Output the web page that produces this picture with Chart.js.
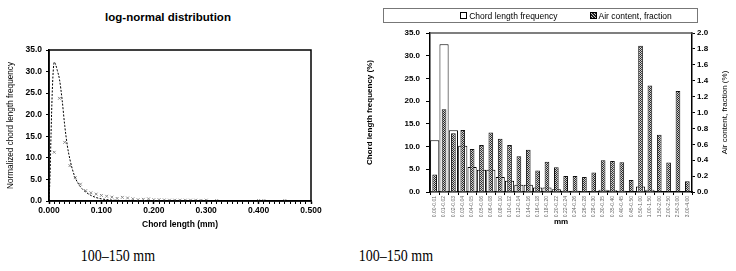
<!DOCTYPE html>
<html>
<head>
<meta charset="utf-8">
<script src="https://cdn.jsdelivr.net/npm/chart.js@4.4.0/dist/chart.umd.min.js"></script>
<style>
  html, body { margin: 0; padding: 0; background: #fff; overflow: hidden; width: 736px; height: 271px; }
  body { position: relative; font-family: "Liberation Sans", Arial, sans-serif; color: #000; }
  #leftWrap { position: absolute; left: 0; top: 0; width: 330px; height: 240px; }
  #rightWrap { position: absolute; left: 350px; top: 0; width: 432px; height: 240px; }
  #lnTitle { position: absolute; left: 68px; top: 11px; width: 200px; text-align: center; font-weight: bold; font-size: 11.5px; }
  .cap { position: absolute; top: 248px; width: 160px; text-align: center; font-family: "Liberation Serif", "Times New Roman", serif;
         font-size: 14px; transform: scale(1, 1.15); }
  #legend { position: absolute; left: 383px; top: 8px; width: 315px; height: 15px; box-sizing: border-box; border: 1px solid #777;
            display: flex; align-items: center; justify-content: center; padding-left: 51px; font-size: 8.5px; }
  #legend span.item { display: inline-flex; align-items: center; }
  #legend span.item + span.item { margin-left: 32px; }
  .sw { display: inline-block; width: 5px; height: 5px; border: 1px solid #000; margin-right: 2px; background: #fff; }
  .sw.hatch { background: repeating-linear-gradient(45deg, #222 0 1px, #ccc 1px 2px); }
</style>
</head>
<body>
<div id="lnTitle">log-normal distribution</div>
<div id="leftWrap"><canvas id="graficoLogNormal"></canvas></div>
<div id="rightWrap"><canvas id="graficoCordas"></canvas></div>
<div id="legend">
  <span class="item"><span class="sw"></span>Chord length frequency</span>
  <span class="item"><span class="sw hatch"></span>Air content, fraction</span>
</div>
<div class="cap" style="left:38px">100–150 mm</div>
<div class="cap" style="left:316px">100–150 mm</div>

<script>
// --- data: log-normal chart (left) ---
const curveX = [0, 0.002, 0.004, 0.006, 0.008, 0.010, 0.013, 0.016, 0.020, 0.025, 0.030, 0.035, 0.040, 0.045, 0.050, 0.060, 0.070, 0.080, 0.090, 0.100, 0.120, 0.150, 0.200, 0.300, 0.400, 0.500];
const curveY = [0, 6, 16, 24.5, 30, 32.2, 31.5, 30.2, 28.2, 23.5, 17.5, 12.8, 9.6, 7.2, 5.4, 3.3, 2.1, 1.3, 0.8, 0.5, 0.2, 0.05, 0, 0, 0, 0];
const measX = [0.010, 0.020, 0.030, 0.040, 0.050, 0.060, 0.070, 0.080, 0.090, 0.100, 0.110, 0.120, 0.130, 0.140, 0.150, 0.160, 0.170, 0.180, 0.190, 0.200, 0.210, 0.220, 0.230, 0.240, 0.250, 0.260, 0.270, 0.280, 0.290, 0.300, 0.320, 0.400, 0.410, 0.450];
const measY = [11.3, 23.8, 13.6, 8.2, 5.4, 3.9, 2.4, 1.9, 1.6, 1.3, 1.1, 0.9, 0.6, 0.85, 0.7, 0.5, 0.3, 0.4, 0.5, 0.3, 0.3, 0.25, 0.2, 0.2, 0.2, 0.2, 0.2, 0.2, 0.15, 0.2, 0.1, 0.1, 0.1, 0.1];

// --- data: chord length histogram (right) ---
const classes = ['0.00-0.01', '0.01-0.02', '0.02-0.03', '0.03-0.04', '0.04-0.05', '0.05-0.06', '0.06-0.08', '0.08-0.10',
  '0.10-0.12', '0.12-0.14', '0.14-0.16', '0.16-0.18', '0.18-0.20', '0.20-0.22', '0.22-0.24', '0.24-0.26', '0.26-0.28',
  '0.28-0.30', '0.30-0.35', '0.35-0.40', '0.40-0.45', '0.45-0.50', '0.50-1.00', '1.00-1.50', '1.50-2.00', '2.00-2.50',
  '2.50-3.00', '3.00-4.00'];
const chordFreq = [11.4, 32.5, 13.6, 10.2, 5.5, 4.9, 4.9, 3.3, 2.5, 1.6, 1.6, 1.0, 1.0, 0.6, 0.3, 0.3, 0.2, 0.2, 0.5, 0.4, 0.3, 0.1, 1.2, 0.5, 0.1, 0.1, 0.1, 0.0];
const airContent = [0.22, 1.04, 0.74, 0.78, 0.54, 0.59, 0.75, 0.67, 0.59, 0.45, 0.53, 0.27, 0.38, 0.31, 0.20, 0.20, 0.19, 0.245, 0.40, 0.39, 0.375, 0.15, 1.84, 1.34, 0.72, 0.37, 1.27, 0.135];

const leftTicks = { min: 0, max: 35, step: 5 };
const rightTicks = { min: 0, max: 2, step: 0.2 };

const FONT = '"Liberation Sans", Arial, sans-serif';
Chart.defaults.font.family = FONT;
Chart.defaults.color = '#000';
Chart.defaults.animation = false;

// hatched fill for the air content bars
function hatchPattern() {
  const c = document.createElement('canvas');
  c.width = 2; c.height = 2;
  const g = c.getContext('2d');
  g.fillStyle = '#d0d0d0'; g.fillRect(0, 0, 2, 2);
  g.fillStyle = '#2a2a2a'; g.fillRect(0, 0, 1, 1); g.fillRect(1, 1, 1, 1);
  return g.createPattern(c, 'repeat');
}

// 1. log-normal distribution
new Chart(document.getElementById('graficoLogNormal'), {
  type: 'scatter',
  data: {
    datasets: [{
      type: 'line',
      label: 'log-normal',
      data: curveX.map((x, i) => ({ x: x, y: curveY[i] })),
      borderColor: '#000',
      borderWidth: 1,
      borderDash: [2, 1.5],
      pointRadius: 0,
      cubicInterpolationMode: 'monotone',
      fill: false
    }, {
      label: 'measured',
      data: measX.map((x, i) => ({ x: x, y: measY[i] })),
      pointStyle: 'crossRot',
      pointRadius: 2,
      borderWidth: 1,
      borderColor: '#8a8a8a',
      backgroundColor: '#8a8a8a'
    }]
  },
  options: {
    responsive: true,
    maintainAspectRatio: false,
    layout: { padding: { left: 0, top: 50, right: 19, bottom: 0 } },
    plugins: { legend: { display: false }, tooltip: { enabled: false } },
    scales: {
      x: {
        type: 'linear', min: 0, max: 0.5,
        afterFit(s) { s.height = 39; },
        grid: { drawOnChartArea: false, tickLength: 3, color: '#000',
          tickWidth: c => (Math.round(c.tick.value * 100) % 10 === 0 ? 1.5 : 1) },
        border: { color: '#000', width: 1.5 },
        ticks: {
          stepSize: 0.01, autoSkip: false, maxRotation: 0, padding: 2,
          font: { size: 8.5, weight: 'bold' },
          callback: v => (Math.round(v * 100) % 10 === 0 ? v.toFixed(3) : '')
        },
        title: { display: true, text: 'Chord length (mm)', font: { size: 8.5, weight: 'bold' }, padding: { top: 0, bottom: 10 } }
      },
      y: {
        min: leftTicks.min, max: leftTicks.max,
        afterFit(s) { s.width = 49; },
        grid: { drawOnChartArea: false, tickLength: 3, color: '#000' },
        border: { color: '#000', width: 1.5 },
        ticks: { stepSize: leftTicks.step, padding: 4, font: { size: 8.5, weight: 'bold' }, callback: v => v.toFixed(1) },
        title: { display: true, text: 'Normalized chord length frequency', font: { size: 8.2 }, padding: { top: 6, bottom: 0 } }
      }
    }
  },
  plugins: [{
    id: 'frame',
    afterDraw(chart) {
      const { ctx, chartArea: a } = chart;
      ctx.save();
      ctx.strokeStyle = '#000';
      ctx.lineWidth = 1.5;
      ctx.strokeRect(a.left, a.top, a.right - a.left, a.bottom - a.top);
      ctx.restore();
    }
  }]
});

// 2. chord length frequency vs air content
new Chart(document.getElementById('graficoCordas'), {
  type: 'bar',
  data: {
    labels: classes,
    datasets: [{
      label: 'Chord length frequency',
      data: chordFreq,
      yAxisID: 'y',
      backgroundColor: '#fff',
      borderColor: '#000',
      borderWidth: 1,
      grouped: false,
      barPercentage: 0.98,
      categoryPercentage: 1,
      order: 1
    }, {
      label: 'Air content, fraction',
      data: airContent,
      yAxisID: 'y2',
      backgroundColor: hatchPattern(),
      borderColor: '#111',
      borderWidth: 1,
      grouped: false,
      barPercentage: 0.5,
      categoryPercentage: 1,
      order: 0
    }]
  },
  options: {
    responsive: true,
    maintainAspectRatio: false,
    layout: { padding: { left: 0, top: 33, right: 0, bottom: 0 } },
    plugins: { legend: { display: false }, tooltip: { enabled: false } },
    scales: {
      x: {
        afterFit(s) { s.height = 48; },
        grid: { drawOnChartArea: false, tickLength: 3, color: '#000', offset: true },
        border: { color: '#000', width: 1.5 },
        ticks: { autoSkip: false, minRotation: 90, maxRotation: 90, padding: 1, color: '#666', font: { size: 5 } },
        title: { display: true, text: 'mm', font: { size: 8, weight: 'bold' }, padding: { top: 0, bottom: 13 } }
      },
      y: {
        position: 'left',
        min: leftTicks.min, max: leftTicks.max,
        afterFit(s) { s.width = 80; },
        grid: { drawOnChartArea: false, tickLength: 4, color: '#000' },
        border: { color: '#000', width: 1.5 },
        ticks: { stepSize: leftTicks.step, padding: 6, font: { size: 8, weight: 'bold' }, callback: v => v.toFixed(1) },
        title: { display: true, text: 'Chord length frequency (%)', font: { size: 8, weight: 'bold' }, padding: { top: 15, bottom: 0 } }
      },
      y2: {
        position: 'right',
        min: rightTicks.min, max: rightTicks.max,
        afterFit(s) { s.width = 90; },
        grid: { drawOnChartArea: false, tickLength: 3, color: '#000' },
        border: { color: '#000', width: 1.5 },
        ticks: { stepSize: rightTicks.step, padding: 2, font: { size: 8, weight: 'bold' }, callback: v => v.toFixed(1) }
      }
    }
  },
  plugins: [{
    id: 'topLineAndRightTitle',
    afterDraw(chart) {
      const { ctx, chartArea: a } = chart;
      ctx.save();
      ctx.strokeStyle = '#555';
      ctx.lineWidth = 1.5;
      ctx.beginPath();
      ctx.moveTo(a.left, a.top);
      ctx.lineTo(a.right, a.top);
      ctx.stroke();
      // right axis title reads bottom-to-top like the left one
      ctx.translate(375, (a.top + a.bottom) / 2);
      ctx.rotate(-Math.PI / 2);
      ctx.fillStyle = '#000';
      ctx.font = '8px ' + FONT;
      ctx.textAlign = 'center';
      ctx.textBaseline = 'middle';
      ctx.fillText('Air content, fraction (%)', 0, 0);
      ctx.restore();
    }
  }]
});
</script>
</body>
</html>
